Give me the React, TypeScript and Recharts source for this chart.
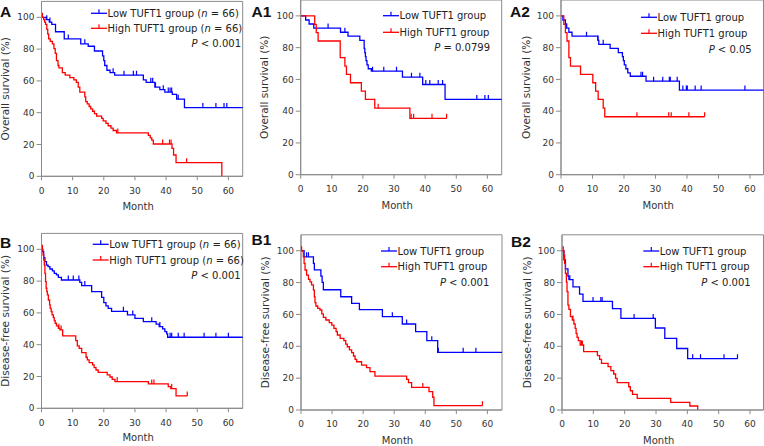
import React from 'react';
import { LineChart, Line, XAxis, YAxis, ReferenceArea } from 'recharts';

type Step = [number, number];

const MONTH_TICKS = [0, 10, 20, 30, 40, 50, 60];
const SURV_TICKS = [0, 20, 40, 60, 80, 100];

const LOW_LABEL = 'Low TUFT1 group';
const HIGH_LABEL = 'High TUFT1 group';

// Panel A: overall survival, all patients
const A_LOW_STEPS: Step[] = [[0,100],[1.5,98.5],[2.5,97],[3.3,95.5],[4.5,90.9],[7.3,86.4],[12.6,83.3],[15,81.8],[17,78.8],[19.6,75.8],[20,72.7],[20.3,69.7],[21,66.7],[22,65.2],[23.5,63.6],[32.7,60.6],[33.6,59.1],[36.4,56.1],[38,54.5],[39.6,53],[42,51.5],[43.4,48.5],[45.9,43.2],[65,43.2]];
const A_LOW_CENSOR = [1.7, 2.7, 8.6, 13.9, 23, 26.5, 29.5, 30.5, 35.1, 35.7, 36.6, 39.1, 40.7, 41.3, 41.8, 43.9, 51.8, 56, 58.6, 59.5];
const A_HIGH_STEPS: Step[] = [[0,100],[0.7,98.5],[1,97],[1.3,95.5],[1.7,92.4],[2,89.4],[2.3,86.4],[2.8,84.8],[3.5,83.3],[4,80.3],[4.4,77.3],[4.8,72.7],[5.3,69.7],[5.6,68.2],[6.7,65.2],[7.6,63.6],[9.1,62.1],[10.4,60.6],[11.2,59.1],[11.8,56.1],[12.3,53],[13.9,50],[14.2,47],[14.7,45.5],[15.3,43.9],[15.8,42.4],[16.4,40.9],[17,39.4],[17.7,37.9],[19.3,36.4],[19.8,34.8],[20.7,33.3],[21.4,31.8],[22.3,30.3],[23,28.8],[24.1,27.3],[34.3,25.8],[34.9,24.2],[35.4,22.7],[35.9,20.3],[41.9,17.6],[42.4,13.4],[43.2,8.6],[57.9,0]];
const A_HIGH_CENSOR = [0.3, 24.5, 38.9, 41.1, 41.6, 46.6];

// Panel A1
const A1_LOW_STEPS: Step[] = [[0,100],[1.6,97.4],[2.7,94.9],[4.2,92.3],[12.8,89.7],[15.2,87.2],[19,84.6],[20.4,79.5],[20.6,76.9],[20.8,74.4],[21,71.8],[21.3,69.2],[21.7,66.7],[22.7,65.2],[32.7,61.4],[39.2,56.8],[46.4,47.4],[65,47.4]];
const A1_LOW_CENSOR = [8.8, 14.2, 23.1, 26.7, 30.8, 35.6, 38.3, 40.2, 41.5, 44.2, 45.6, 56.6, 59.2, 60.3];
const A1_HIGH_STEPS: Step[] = [[0,100],[4.5,94.7],[5,89.5],[5.6,84.2],[12.7,73.7],[14.2,68.4],[14.7,63.2],[16,57.9],[19.5,52.6],[20.8,47.4],[23.8,41.9],[35.1,35.5]];
const A1_HIGH_CENSOR = [24.9, 35.5, 36.3, 42.2, 46.9];

// Panel A2
const A2_LOW_STEPS: Step[] = [[0,100],[0.6,97.4],[1.4,94.9],[1.8,92.3],[2.5,89.7],[3.5,87.2],[11.7,84.6],[12,82.1],[15.6,79.5],[18.2,76.9],[19.5,74.4],[19.8,71.8],[20.1,69.2],[20.6,66.7],[21.2,64.1],[22,62],[27,58.9],[37.6,53.3],[65,53.3]];
const A2_LOW_CENSOR = [8.1, 11.7, 13.4, 25.4, 25.9, 29.4, 32.3, 34.4, 34.7, 36.9, 38.7, 39.8, 40.1, 42.6, 44.5, 58.4];
const A2_HIGH_STEPS: Step[] = [[0,100],[0.9,94.7],[1.4,89.5],[1.9,84.2],[2.5,73.7],[3,68.4],[6.2,63.2],[10.1,57.9],[11,52.6],[11.8,47.4],[13.4,41.9],[13.9,36.5]];
const A2_HIGH_CENSOR = [24.1, 34.2, 35, 40.6, 45.6];

// Panel B: disease-free survival, all patients
const B_LOW_STEPS: Step[] = [[0,100],[0.3,98.5],[0.7,94.8],[1.1,92.2],[1.6,90.1],[2.1,89.1],[2.7,87.6],[3.5,86.4],[4.1,84.9],[4.8,83.9],[5.4,82.4],[6.4,80.7],[12.3,79.2],[12.9,77.2],[16.1,73.4],[19.3,69.8],[20,66.5],[20.7,64.4],[21.4,62.9],[22.5,61],[27.6,58.7],[30,56.5],[32.7,54.5],[36.8,53],[37.8,51.4],[38.9,49.9],[39.6,48.2],[40.2,46.8],[40.5,44.7],[65,44.7]];
const B_LOW_CENSOR = [8.6, 10.2, 12, 13.9, 26.3, 29.3, 35.4, 38, 41.3, 41.8, 43.9, 45.8, 52.2, 56, 60];
const B_HIGH_STEPS: Step[] = [[0,100],[0.5,96.4],[0.7,93.3],[0.9,90.1],[1.1,84.9],[1.3,79.7],[1.5,75.5],[1.7,73.4],[1.9,71.3],[2.2,68.1],[2.6,65],[2.8,62.9],[3.1,60.8],[3.4,58.7],[3.8,57],[4.1,55.1],[4.4,53.5],[4.8,51.8],[5.4,50.3],[5.9,49.3],[6.8,45.5],[11,42.6],[11.5,39.2],[12.1,37.7],[12.9,35],[14.3,32.1],[14.7,30.4],[15.3,28.7],[16.4,27.3],[16.9,25.6],[17.5,24.1],[18.2,22.6],[21.1,21],[22,19.7],[22.7,18.2],[23.6,16.8],[34.3,15.3],[40.7,13.6],[41.5,12.4],[43.2,7.8]];
const B_HIGH_CENSOR = [0.3, 5.6, 6.3, 24.3, 35.4, 36.1, 41.8, 46.8];

// Panel B1
const B1_LOW_STEPS: Step[] = [[0,100],[1,96.2],[4,92],[4.3,88],[6.4,84.1],[6.8,80.1],[7.2,75.5],[12.8,71.1],[16.3,66.9],[18.8,63],[26.2,58.6],[32.6,54],[36.9,49.2],[40.5,43.5],[44,36.2],[65,36.2]];
const B1_LOW_CENSOR = [1.8, 2.4, 29.4, 34, 42.1, 44.2, 52.2, 56.3];
const B1_HIGH_STEPS: Step[] = [[0,100],[0.75,96.2],[1,92],[1.3,87.9],[1.8,84.7],[2.4,82],[2.9,80.5],[3.4,78.5],[4,75.3],[4.3,71.1],[4.5,67.4],[4.8,65.3],[5.4,63.8],[6.1,62.8],[6.7,60.3],[7.2,58.2],[8,56.5],[9.1,54.8],[9.9,53.3],[10.6,51.3],[11.3,49.2],[11.7,47.1],[12.6,45],[13.8,43.5],[14.4,41.4],[14.9,39.7],[15.6,37.7],[16.3,36],[16.9,33.9],[17.4,31.8],[17.9,30.3],[19.5,28.2],[21.1,26.6],[22.2,24.1],[23.8,21.3],[34,19.2],[34.6,17.2],[35.6,14.2],[41.2,11.5],[42.4,8],[42.8,2.7]];
const B1_HIGH_CENSOR = [0.2, 39.2, 58.4];

// Panel B2
const B2_LOW_STEPS: Step[] = [[0,100],[0.6,94.3],[1.1,88.6],[1.9,84.1],[2.2,81.8],[3.5,77.3],[5.6,72.7],[6.7,68.2],[16.1,63.6],[18.8,57.5],[29.8,51.5],[32.8,45],[36.6,38.6],[40.1,32.2]];
const B2_LOW_CENSOR = [2.5, 9.9, 12.4, 12.8, 23, 29.1, 41.7, 44.2, 51.7, 56];
const B2_HIGH_STEPS: Step[] = [[0,100],[0.6,97.3],[0.85,92],[1.1,85.8],[1.4,80.3],[1.6,74.3],[1.9,65.9],[2.2,63.2],[2.7,58.6],[3.3,56.5],[3.8,54],[4.2,51.3],[4.5,48.1],[4.8,45.6],[5.2,43.5],[5.8,40.8],[6.9,36.6],[11.3,34.1],[12,31.8],[12.6,29.3],[14.7,27.2],[15.6,24.7],[16.5,22.6],[17.1,19.9],[17.6,17.2],[21.3,14.6],[21.8,12.1],[22.5,9.8],[24,7.3],[34.7,4.8],[40.8,2.5],[43.3,0]];
const B2_HIGH_CENSOR = [0.4, 3.5, 6.2, 6.5];

const FONT = "'DejaVu Sans', Verdana, sans-serif";
const AXIS = '#8a8a8a';
const TXT = '#333333';
const BLUE = '#0000ff';
const RED = '#ff0000';

type Pt = { t: number; s: number; c: boolean };

function buildCurve(steps: Step[], censors: number[]): Pt[] {
  const pts: Pt[] = steps.map(([t, s]) => ({ t, s, c: false }));
  censors.forEach((t) => {
    let s = steps[0][1];
    for (const [st, ss] of steps) if (st <= t) s = ss;
    pts.push({ t, s, c: true });
  });
  pts.sort((a, b) => a.t - b.t || (a.c ? 1 : 0) - (b.c ? 1 : 0));
  return pts;
}

const censorDot = (color: string) => (props: any) => {
  const { cx, cy, payload, index } = props;
  if (!payload || !payload.c || cx == null || cy == null) return <g key={`d${index}`} />;
  return <line key={`d${index}`} x1={cx} x2={cx} y1={cy - 4.5} y2={cy} stroke={color} strokeWidth={1.2} />;
};

type Box = { left: number; top: number; w: number; h: number };
type Plot = { left: number; right: number; top: number; bottom: number };

type PanelCfg = {
  id: string;
  box: Box;
  plot: Plot;
  xMax: number;
  yLabel: string;
  yLabelX: number;
  monthY: number;
  low: Pt[];
  high: Pt[];
  letterX: number;
  letterY: number;
  legX: number;
  rows: number[];
  pRight: number;
  nText: boolean;
  pText: string;
};

const OS = 'Overall survival (%)';
const DFS = 'Disease-free survival (%)';

const PANELS: PanelCfg[] = [
  { id: 'A', box: { left: 0, top: 0, w: 250, h: 220 }, plot: { left: 41.5, right: 242.7, top: 1.4, bottom: 176.3 }, xMax: 64.6, yLabel: OS, yLabelX: 5, monthY: 206.7, low: buildCurve(A_LOW_STEPS, A_LOW_CENSOR), high: buildCurve(A_HIGH_STEPS, A_HIGH_CENSOR), letterX: 0, letterY: 16.7, legX: 91, rows: [13.3, 28.3, 43.3], pRight: 241, nText: true, pText: '< 0.001' },
  { id: 'A1', box: { left: 250, top: 0, w: 255, h: 220 }, plot: { left: 300.7, right: 501.7, top: 0, bottom: 174.7 }, xMax: 64.6, yLabel: OS, yLabelX: 264, monthY: 205, low: buildCurve(A1_LOW_STEPS, A1_LOW_CENSOR), high: buildCurve(A1_HIGH_STEPS, A1_HIGH_CENSOR), letterX: 251.5, letterY: 17.3, legX: 383, rows: [15.7, 32.3, 47.7], pRight: 490, nText: false, pText: '= 0.0799' },
  { id: 'A2', box: { left: 505, top: 0, w: 259, h: 220 }, plot: { left: 561, right: 763.5, top: 0, bottom: 174.7 }, xMax: 64.3, yLabel: OS, yLabelX: 526, monthY: 205, low: buildCurve(A2_LOW_STEPS, A2_LOW_CENSOR), high: buildCurve(A2_HIGH_STEPS, A2_HIGH_CENSOR), letterX: 510, letterY: 16.7, legX: 641, rows: [17.3, 33.3, 49.3], pRight: 751.7, nText: false, pText: '< 0.05' },
  { id: 'B', box: { left: 0, top: 222, w: 250, h: 224 }, plot: { left: 41.5, right: 242.7, top: 233.4, bottom: 408.3 }, xMax: 64.6, yLabel: DFS, yLabelX: 5, monthY: 437.8, low: buildCurve(B_LOW_STEPS, B_LOW_CENSOR), high: buildCurve(B_HIGH_STEPS, B_HIGH_CENSOR), letterX: 0, letterY: 248.3, legX: 92.7, rows: [244.3, 260, 275], pRight: 240.7, nText: true, pText: '< 0.001' },
  { id: 'B1', box: { left: 250, top: 222, w: 255, h: 224 }, plot: { left: 301, right: 502, top: 234.8, bottom: 410 }, xMax: 64.7, yLabel: DFS, yLabelX: 265, monthY: 440, low: buildCurve(B1_LOW_STEPS, B1_LOW_CENSOR), high: buildCurve(B1_HIGH_STEPS, B1_HIGH_CENSOR), letterX: 251.5, letterY: 245, legX: 381, rows: [251, 266.7, 282.3], pRight: 489.3, nText: false, pText: '< 0.001' },
  { id: 'B2', box: { left: 505, top: 222, w: 259, h: 224 }, plot: { left: 562, right: 763.5, top: 234.8, bottom: 410 }, xMax: 64.3, yLabel: DFS, yLabelX: 527, monthY: 440, low: buildCurve(B2_LOW_STEPS, B2_LOW_CENSOR), high: buildCurve(B2_HIGH_STEPS, B2_HIGH_CENSOR), letterX: 511, letterY: 247.3, legX: 643.3, rows: [251, 266.7, 282.3], pRight: 750.7, nText: false, pText: '< 0.001' },
];

function KMPanel({ cfg }: { cfg: PanelCfg }) {
  const { box, plot, xMax } = cfg;
  const margin = { top: plot.top - box.top, right: box.left + box.w - plot.right, left: 0, bottom: 0 };
  const yAxisWidth = plot.left - box.left;
  const xAxisHeight = box.top + box.h - plot.bottom;
  const labelStyle = { fill: TXT, fontFamily: FONT };
  return (
    <div style={{ position: 'absolute', left: box.left, top: box.top, width: box.w, height: box.h }}>
      <LineChart width={box.w} height={box.h} margin={margin}>
        <XAxis
          type="number"
          dataKey="t"
          domain={[0, xMax]}
          ticks={MONTH_TICKS}
          allowDataOverflow
          height={xAxisHeight}
          tickSize={4}
          tickMargin={7}
          stroke={AXIS}
          tick={{ fill: TXT, fontSize: 9, fontFamily: FONT }}
          label={{ value: 'Month', position: 'insideBottom', offset: box.top + box.h - (cfg.monthY + 3.6), dx: -4, style: { ...labelStyle, fontSize: 10 } }}
        />
        <YAxis
          type="number"
          domain={[0, 110]}
          ticks={SURV_TICKS}
          allowDataOverflow
          width={yAxisWidth}
          tickSize={5}
          tickMargin={2}
          stroke={AXIS}
          tick={{ fill: TXT, fontSize: 9, fontFamily: FONT }}
          label={{ value: cfg.yLabel, angle: -90, position: 'insideLeft', offset: cfg.yLabelX - box.left, style: { ...labelStyle, fontSize: 10.5, textAnchor: 'middle' } }}
        />
        <ReferenceArea x1={0} x2={xMax} y1={0} y2={110} fill="none" stroke={AXIS} strokeWidth={1} ifOverflow="visible" />
        <Line data={cfg.low} dataKey="s" type="stepAfter" stroke={BLUE} strokeWidth={1.3} dot={censorDot(BLUE)} activeDot={false} isAnimationActive={false} />
        <Line data={cfg.high} dataKey="s" type="stepAfter" stroke={RED} strokeWidth={1.3} dot={censorDot(RED)} activeDot={false} isAnimationActive={false} />
      </LineChart>
    </div>
  );
}

function Overlay() {
  return (
    <svg width={764} height={446} style={{ position: 'absolute', left: 0, top: 0, pointerEvents: 'none' }}>
      {PANELS.map((p) => {
        const mw = 16;
        const tx = p.legX + mw + 0.5;
        return (
          <g key={p.id}>
            <text x={p.letterX} y={p.letterY} fontFamily="'Liberation Sans', Arial, sans-serif" fontWeight="bold" fontSize={15.5} fill="#111">{p.id}</text>
            {[0, 1].map((i) => {
              const color = i === 0 ? BLUE : RED;
              const y = p.rows[i];
              return (
                <g key={i}>
                  <line x1={p.legX} x2={p.legX + mw} y1={y} y2={y} stroke={color} strokeWidth={1.3} />
                  <line x1={p.legX + mw / 2} x2={p.legX + mw / 2} y1={y - 4} y2={y} stroke={color} strokeWidth={1.2} />
                  <text x={tx} y={y + 3.6} fontFamily={FONT} fontSize={10} fill="#222">
                    {i === 0 ? LOW_LABEL : HIGH_LABEL}
                    {p.nText ? (
                      <>
                        {' ('}
                        <tspan fontStyle="italic">n</tspan>
                        {' = 66)'}
                      </>
                    ) : null}
                  </text>
                </g>
              );
            })}
            <text x={p.pRight} y={p.rows[2] + 3.6} textAnchor="end" fontFamily={FONT} fontSize={10} fill="#222">
              <tspan fontStyle="italic">P</tspan>
              {' ' + p.pText}
            </text>
          </g>
        );
      })}
    </svg>
  );
}

export default function App() {
  return (
    <div style={{ position: 'absolute', left: 0, top: 0, width: 764, height: 446, background: '#ffffff', overflow: 'hidden' }}>
      {PANELS.map((p) => (
        <KMPanel key={p.id} cfg={p} />
      ))}
      <Overlay />
    </div>
  );
}
